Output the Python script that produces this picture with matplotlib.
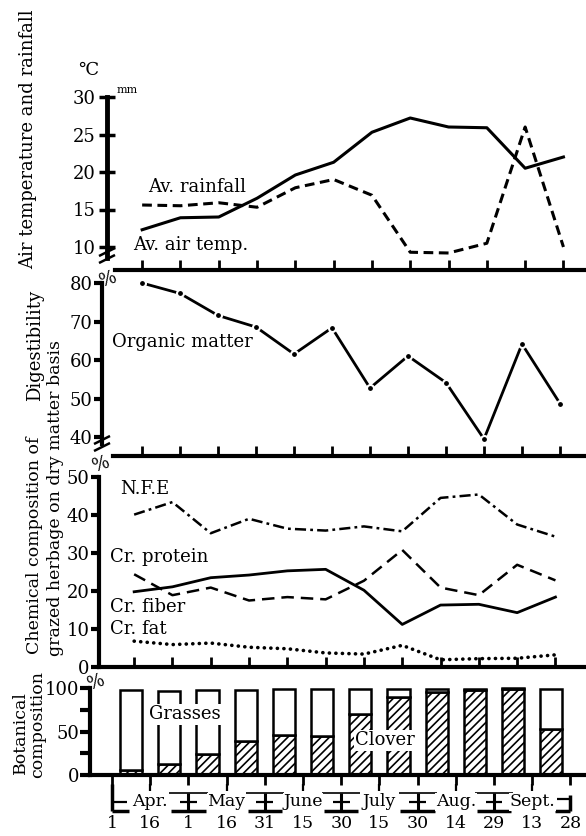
import matplotlib
matplotlib.use("Agg")
import matplotlib.pyplot as plt
from matplotlib.lines import Line2D
import numpy as np

W, H = 586, 836

plt.rcParams['font.family'] = ['DejaVu Serif', 'DejaVu Sans']
plt.rcParams['lines.scale_dashes'] = False
plt.rcParams['hatch.linewidth'] = 1.2

# ---- data ----
periods = np.arange(12) + 0.5          # half-month periods, Apr.1 .. Sept.28
air_temp = [12.3, 13.9, 14.0, 16.5, 19.6, 21.3, 25.3, 27.2, 26.0, 25.9, 20.5, 22.0]
rainfall = [15.6, 15.5, 15.9, 15.3, 17.9, 19.0, 16.9, 9.3, 9.2, 10.5, 26.0, 10.0]
organic_matter = [80.0, 77.3, 71.6, 68.6, 61.6, 68.4, 52.8, 61.1, 54.2, 39.6, 64.2, 48.8]
nfe = [40.1, 43.4, 35.2, 39.0, 36.4, 35.9, 37.0, 35.7, 44.5, 45.4, 37.5, 34.3]
cr_protein = [24.4, 18.9, 20.9, 17.5, 18.4, 17.8, 22.7, 30.8, 20.9, 18.9, 26.9, 22.8]
cr_fiber = [19.8, 21.1, 23.5, 24.2, 25.3, 25.7, 20.2, 11.2, 16.3, 16.5, 14.3, 18.4]
cr_fat = [6.8, 5.9, 6.3, 5.2, 4.8, 3.7, 3.4, 5.7, 1.9, 2.2, 2.3, 3.2]
clover = [6, 13, 24, 39, 46, 45, 70, 90, 95, 98, 99, 53]
grasses = [92, 84, 74, 59, 53, 54, 29, 9, 4, 1, 1, 46]
months = ['Apr.', 'May', 'June', 'July', 'Aug.', 'Sept.']
dates = ['1', '16', '1', '16', '31', '15', '30', '15', '30', '14', '29', '13', '28']


def fx(px):
    return px / W


def fy(py):
    return 1 - py / H


def add_ax(l, t, r, b):
    ax = fig.add_axes([fx(l), fy(b), (r - l) / W, (b - t) / H])
    ax.patch.set_alpha(0)
    ax.spines['top'].set_visible(False)
    ax.spines['right'].set_visible(False)
    return ax


def xlim_for(spine_px, x0, unit):
    return ((spine_px - x0) / unit, (W - x0) / unit)


def ftext(px, py, s, **kw):
    kw.setdefault('fontsize', 13)
    fig.text(fx(px), fy(py), s, **kw)


def fline(xs, ys, lw=1.8):
    fig.add_artist(Line2D([fx(x) for x in xs], [fy(y) for y in ys],
                          color='black', lw=lw, solid_capstyle='butt'))


def break_mark(px, py):
    for dy in (0, 7):
        fline([px - 8, px + 8], [py + dy + 4, py + dy - 4], lw=1.8)


fig = plt.figure(figsize=(W / 100, H / 100), dpi=100)

# ---------- panel 1: air temperature and rainfall ----------
ax1 = add_ax(107, 93, W, 270)
xl = xlim_for(107, 123, 38.3)
ax1.set_xlim(xl)
ax1.set_ylim(10 - 23 / 7.5, 30 + 4 / 7.5)
ax1.plot(periods, air_temp, color='black', lw=2.2)
ax1.plot(periods, rainfall, color='black', lw=2.2, linestyle=(0, (7, 4)))
ax1.spines['left'].set_bounds(8.6, 30)
ax1.spines['left'].set_linewidth(3.5)
ax1.spines['bottom'].set_bounds(xl[0] + 0.2, xl[1])
ax1.spines['bottom'].set_linewidth(3)
ax1.set_yticks([10, 15, 20, 25, 30])
ax1.set_yticklabels(['10', '15', '20', '25', '30'], fontsize=13)
ax1.tick_params(axis='y', direction='inout', length=12, width=2.5, pad=2)
ax1.set_xticks(periods)
ax1.set_xticklabels([])
ax1.tick_params(axis='x', direction='in', length=7, width=2)
break_mark(107, 252)
ftext(88, 70, '℃', ha='center', va='center')
ftext(117, 90, 'mm', fontsize=8, ha='left', va='center')
ftext(148, 187, 'Av. rainfall', ha='left', va='center')
ftext(133, 245, 'Av. air temp.', ha='left', va='center')
ftext(28, 139, 'Air temperature and rainfall', rotation=90, ha='center', va='center')

# ---------- panel 2: digestibility ----------
u2 = 3.86
ax2 = add_ax(102, 275, W, 456)
xl = xlim_for(102, 123, 38.0)
ax2.set_xlim(xl)
ax2.set_ylim(40 - 18.5 / u2, 80 + 8 / u2)
ax2.plot(periods, organic_matter, color='black', lw=2, marker='o', markersize=5,
         markerfacecolor='black', markeredgecolor='white', markeredgewidth=1.5)
ax2.spines['left'].set_bounds(38.3, 80)
ax2.spines['left'].set_linewidth(3)
ax2.spines['bottom'].set_bounds(xl[0] + 0.3, xl[1])
ax2.spines['bottom'].set_linewidth(3)
ax2.set_yticks([40, 50, 60, 70, 80])
ax2.set_yticklabels(['40', '50', '60', '70', '80'], fontsize=13)
ax2.tick_params(axis='y', direction='out', length=6, width=3, pad=1)
ax2.set_xticks(periods)
ax2.set_xticklabels([])
ax2.tick_params(axis='x', direction='in', length=7, width=2)
break_mark(102, 440)
ftext(108, 279, '%', ha='center', va='center', rotation=20)
ftext(112, 342, 'Organic matter', ha='left', va='center')
ftext(35, 345, 'Digestibility', rotation=90, ha='center', va='center')

# ---------- panel 3: chemical composition ----------
u3 = 3.8
ax3 = add_ax(99, 460, W, 667)
xl = xlim_for(99, 115, 38.3)
ax3.set_xlim(xl)
ax3.set_ylim(0, 50 + 17 / u3)
ax3.plot(periods, nfe, color='black', lw=1.8, linestyle=(0, (8, 3, 2, 3)))
ax3.plot(periods, cr_protein, color='black', lw=1.8, linestyle=(0, (9, 5)))
ax3.plot(periods, cr_fiber, color='black', lw=2)
ax3.plot(periods, cr_fat, color='black', lw=2.6, linestyle=(0, (0.1, 4.6)),
         dash_capstyle='round')
ax3.spines['left'].set_bounds(0, 50)
ax3.spines['left'].set_linewidth(3)
ax3.spines['bottom'].set_linewidth(3)
ax3.set_yticks([0, 10, 20, 30, 40, 50])
ax3.set_yticklabels(['0', '10', '20', '30', '40', '50'], fontsize=13)
ax3.tick_params(axis='y', direction='out', length=6, width=3, pad=1)
ax3.set_xticks(periods)
ax3.set_xticklabels([])
ax3.tick_params(axis='x', direction='in', length=7, width=2)
ftext(101, 464, '%', ha='center', va='center', rotation=20)
ftext(120, 489, 'N.F.E', ha='left', va='center')
ftext(110, 557, 'Cr. protein', ha='left', va='center')
ftext(110, 607, 'Cr. fiber', ha='left', va='center')
ftext(110, 629, 'Cr. fat', ha='left', va='center')
ftext(35, 545, 'Chemical composition of', fontsize=12.5, rotation=90,
      ha='center', va='center')
ftext(56, 498, 'grazed herbage on dry matter basis', fontsize=12.5, rotation=90,
      ha='center', va='center')

# ---------- panel 4: botanical composition ----------
u4 = 0.86
ax4 = add_ax(90, 676, W, 775)
xl = xlim_for(90, 112, 38.2)
ax4.set_xlim(xl)
ax4.set_ylim(0, 100 + 12 / u4)
ax4.bar(periods, clover, width=0.58, color='white', edgecolor='black', lw=1.8,
        hatch='////', zorder=2)
ax4.bar(periods, grasses, bottom=clover, width=0.58, color='white', edgecolor='black',
        lw=1.8, zorder=2)
ax4.spines['left'].set_bounds(0, 100)
ax4.spines['left'].set_linewidth(3)
ax4.spines['bottom'].set_linewidth(3)
ax4.set_yticks([0, 25, 50, 75, 100])
ax4.set_yticklabels(['0', '', '50', '', '100'], fontsize=13)
ax4.tick_params(axis='y', direction='out', length=7, width=3, pad=1)
ax4.set_xticks(np.arange(len(dates)))
ax4.set_xticklabels([])
ax4.tick_params(axis='x', direction='out', length=7, width=2)
ax4.text(1.9, 70, 'Grasses', fontsize=13, ha='center', va='center', zorder=5,
         bbox=dict(facecolor='white', edgecolor='none', pad=1))
ax4.text(7.15, 40, 'Clover', fontsize=13, ha='center', va='center', zorder=5,
         bbox=dict(facecolor='white', edgecolor='none', pad=1))
ftext(96, 682, '%', ha='center', va='center', rotation=20)
ftext(20, 774, 'Botanical', fontsize=12.5, rotation=90, ha='center', va='bottom')
ftext(38, 778, 'composition', fontsize=12.5, rotation=90, ha='center', va='bottom')

# ---------- date / month timeline ----------
ax5 = add_ax(90, 778, W, 836)
ax5.set_xlim(xl)
ax5.set_ylim(836, 778)
ax5.axis('off')
kw = dict(color='black', solid_capstyle='butt')
for b in range(2, len(dates) - 1, 2):
    ax5.plot([b - 0.5, b + 0.5], [793, 793], lw=1.2, **kw)
    ax5.plot([b, b], [793, 811], lw=2.2, **kw)
    ax5.plot([b - 0.22, b + 0.22], [802, 802], lw=1.6, **kw)
    ax5.plot([b - 0.45, b + 0.45], [810.5, 810.5], lw=2.5, **kw)
ax5.plot([0, 0], [784, 811], lw=2.5, **kw)
ax5.plot([0, 0.4], [802, 802], lw=1.6, **kw)
ax5.plot([0, 0.45], [810.5, 810.5], lw=2.5, **kw)
last = len(dates) - 1
ax5.plot([last, last], [795, 811], lw=2.5, **kw)
ax5.plot([last - 0.35, last], [799, 799], lw=1.6, **kw)
ax5.plot([last - 0.4, last], [810.5, 810.5], lw=2.5, **kw)
for i, m in enumerate(months):
    d = 2 * i + 1
    ax5.plot([d, d], [784, 791], lw=1.6, **kw)
    ax5.text(d, 802, m, fontsize=12.5, ha='center', va='center',
             bbox=dict(facecolor='white', edgecolor='none', pad=0.5))
for i, d in enumerate(dates):
    ax5.text(i, 824, d, fontsize=12.5, ha='center', va='center')

fig.savefig('out.png', dpi=100)
